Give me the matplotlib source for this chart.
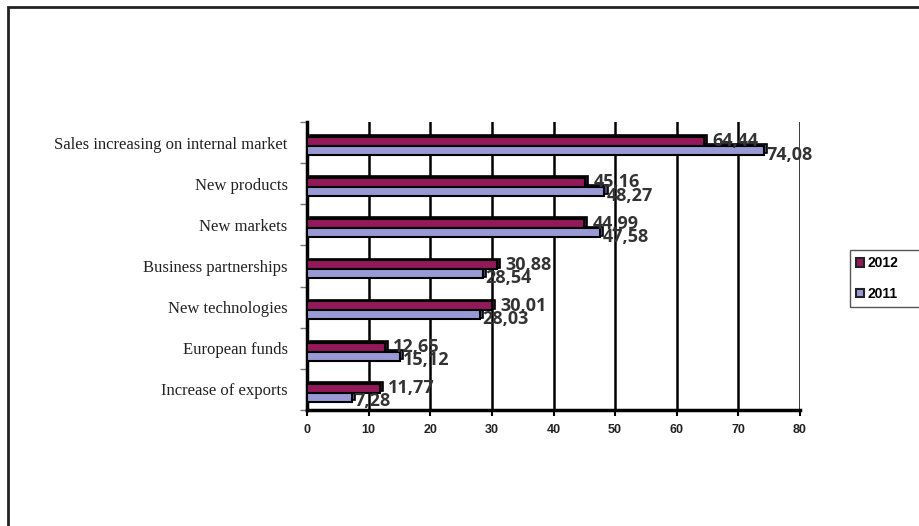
import matplotlib
matplotlib.use('Agg')
import matplotlib.pyplot as plt
import matplotlib.patches as mpatches
import numpy as np

categories = ['Sales increasing on internal market', 'New products', 'New markets',
              'Business partnerships', 'New technologies', 'European funds',
              'Increase of exports']
vals_2012 = [64.44, 45.16, 44.99, 30.88, 30.01, 12.65, 11.77]
vals_2011 = [74.08, 48.27, 47.58, 28.54, 28.03, 15.12, 7.28]
series = ['2012', '2011']
xticks = [0, 10, 20, 30, 40, 50, 60, 70, 80]

C12 = '#93195A'
C11 = '#9999D6'

fig = plt.figure(figsize=(9.19, 5.26), dpi=100)
W, H = 919, 526
ax = fig.add_axes([307 / W, 1 - 410 / H, (800 - 307) / W, (410 - 122) / H])

y = np.arange(len(categories))
bh = 0.22
sh = 0.08  # pair sits a bit below the category label
# dark depth behind bars (pseudo 3D)
ax.barh(y - bh / 2 + sh - 0.04, vals_2012, bh, left=0.5, color='#3a0a22', edgecolor='black', lw=1.2, zorder=2)
ax.barh(y + bh / 2 + sh - 0.04, vals_2011, bh, left=0.5, color='#4a4a7a', edgecolor='black', lw=1.2, zorder=2)
ax.barh(y - bh / 2 + sh, vals_2012, bh, color=C12, edgecolor='black', lw=1.5, zorder=3)
ax.barh(y + bh / 2 + sh, vals_2011, bh, color=C11, edgecolor='black', lw=1.5, zorder=3)

lab_kw = dict(fontsize=13, fontweight='bold', color='#333333', family='Open Sans',
              va='center', ha='left', textcoords='offset points', zorder=5)
for yy, v in zip(y, vals_2012):
    ax.annotate(f'{v:.2f}'.replace('.', ','), (v, yy - bh / 2 + sh), xytext=(6, 0), **lab_kw)
for yy, v in zip(y, vals_2011):
    ax.annotate(f'{v:.2f}'.replace('.', ','), (v, yy + bh / 2 + sh), xytext=(2, -3), **lab_kw)

ax.set_xlim(0, 80)
ax.set_ylim(len(categories) - 0.5, -0.5)
ax.set_xticks(xticks)
ax.set_xticklabels([str(t) for t in xticks], fontsize=9, fontweight='bold',
                   family='Liberation Sans', color='#222222')
ax.set_yticks(y)
ax.set_yticklabels(categories, fontsize=12, family='Liberation Serif', color='#222222')
ax.set_yticks(np.arange(-0.5, len(categories)), minor=True)
ax.tick_params(axis='y', which='major', length=0, pad=14)
ax.tick_params(axis='y', which='minor', length=5, color='#777777', width=1)
ax.tick_params(axis='x', length=4, width=1.5, pad=6)
ax.grid(axis='x', color='black', lw=1.8, zorder=1)
ax.set_axisbelow(True)
for s in ['top', 'right']:
    ax.spines[s].set_visible(False)
ax.spines['left'].set_linewidth(2.5)
ax.spines['bottom'].set_linewidth(2.5)

# outer chart border (cut off at right and bottom)
fig.add_artist(mpatches.Rectangle((8 / W, -0.2), 1.2, 1.2 - 7 / H, transform=fig.transFigure,
                                  fill=False, ec='#222222', lw=2))

# legend box, cut at right edge
fig.add_artist(mpatches.Rectangle((850 / W, 1 - 307 / H), 0.2, 57 / H, transform=fig.transFigure,
                                  fill=False, ec='#555555', lw=1))
handles = [mpatches.Patch(fc=C12, ec='#222222', lw=1.5), mpatches.Patch(fc=C11, ec='#222222', lw=1.5)]
fig.legend(handles, series, loc='center left', bbox_to_anchor=(843 / W, 1 - 278.5 / H),
           frameon=False, handlelength=0.6, handleheight=0.6, handletextpad=0.25,
           labelspacing=1.2, prop={'family': 'Liberation Sans', 'weight': 'bold', 'size': 10})

fig.savefig('out.png', dpi=100)
